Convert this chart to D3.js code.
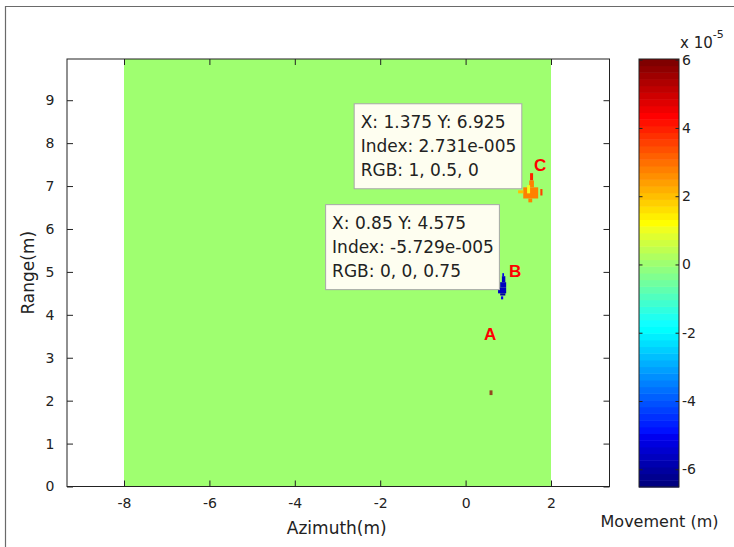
<!DOCTYPE html>
<html>
<head>
<meta charset="utf-8">
<script src="https://cdn.jsdelivr.net/npm/d3@7"></script>
<style>
  html, body { margin: 0; padding: 0; background: #fff; }
  svg { display: block; font-family: "DejaVu Sans", sans-serif; }
</style>
</head>
<body>
<svg id="chart" width="734" height="547"></svg>
<script>
// ---- data -------------------------------------------------------------
// axis limits (m)
const xLimits = [-9.335, 3.37];
const yLimits = [0, 9.96];
// scanned region (m)
const scanAzimuth = [-8, 2];
const scanRange = [0, 9.96];
const backgroundMovement = 0;
// tick values
const xTicks = [-8, -6, -4, -2, 0, 2];
const yTicks = [0, 1, 2, 3, 4, 5, 6, 7, 8, 9];
const cbTicks = [-6, -4, -2, 0, 2, 4, 6];          // x 1e-5
const cbScaleExp = -5;
// colour limits (m)
const colorLimits = [-6.52e-5, 6.02e-5];
// detected movement cells: [az0, az1, range0, range1, movement (m)]
const targetA = [
  [0.56, 0.63, 2.13, 2.24, 5.8e-5]
];
const targetB = [
  [0.86, 0.90, 4.90, 4.97, -5.0e-5],
  [0.85, 0.93, 4.76, 4.90, -5.729e-5],
  [0.81, 0.95, 4.64, 4.76, -5.729e-5],
  [0.76, 0.95, 4.50, 4.64, -5.729e-5],
  [0.81, 0.93, 4.45, 4.50, -6.1e-5],
  [0.83, 0.88, 4.36, 4.43, -5.0e-5]
];
const targetC = [
  [1.51, 1.58, 7.13, 7.30, 4.0e-5],
  [1.49, 1.60, 6.97, 7.13, 2.731e-5],
  [1.35, 1.70, 6.71, 6.97, 2.731e-5],
  [1.44, 1.51, 6.83, 7.02, 1.0e-5],
  [1.47, 1.56, 6.62, 6.71, 2.731e-5],
  [1.75, 1.80, 6.78, 6.93, 3.6e-5],
  [1.23, 1.35, 6.83, 6.90, 2.0e-5]
];
// data cursors
const tipX = [1.375, 0.85];
const tipY = [6.925, 4.575];
const tipValue = [2.731e-5, -5.729e-5];
// target names and where they are written (m)
const targetNames = ["A", "B", "C"];
const nameX = [0.576, 1.161, 1.747];
const nameY = [3.572, 5.038, 7.505];

// ---- layout -----------------------------------------------------------
const svg = d3.select("#chart");
const plot = { left: 67, right: 609.5, top: 59, bottom: 486.5 };
const cbar = { left: 639, right: 679, top: 59, bottom: 487 };
const ink = "#222";
const plain = d => String(d);   // ASCII hyphen for negatives

const x = d3.scaleLinear().domain(xLimits).range([plot.left, plot.right]);
const y = d3.scaleLinear().domain(yLimits).range([plot.bottom, plot.top]);

// MATLAB jet(64)
function jetRow(i) {
  const u = k => (k < 1 || k > 47) ? 0 : (k <= 16 ? k / 16 : (k <= 31 ? 1 : (48 - k) / 16));
  const r = i >= 25 ? u(i - 24) : 0;
  const g = (i >= 9 && i <= 55) ? u(i - 8) : 0;
  const b = i <= 39 ? u(i + 7) : 0;
  return [r, g, b];
}
const jetRows = d3.range(1, 65).map(jetRow);
const color = d3.scaleQuantize().domain(colorLimits)
  .range(jetRows.map(([r, g, b]) => d3.rgb(r * 255, g * 255, b * 255).formatHex()));
const rowOf = d3.scaleQuantize().domain(colorLimits).range(jetRows);

const defs = svg.append("defs");
defs.append("filter").attr("id", "soft")
  .attr("x", "-50%").attr("y", "-50%").attr("width", "200%").attr("height", "200%")
  .append("feGaussianBlur").attr("stdDeviation", 0.45);

// outer frame
svg.append("path").attr("d", "M5.5,547V6.5H734")
  .attr("fill", "none").attr("stroke", "#6a6a6a").attr("stroke-width", 1.2);

// ---- image ------------------------------------------------------------
svg.append("rect")
  .attr("x", x(scanAzimuth[0])).attr("width", x(scanAzimuth[1]) - x(scanAzimuth[0]))
  .attr("y", y(scanRange[1])).attr("height", y(scanRange[0]) - y(scanRange[1]))
  .attr("fill", color(backgroundMovement));

function drawCells(cells, opacity) {
  svg.append("g").attr("filter", "url(#soft)")
    .selectAll("rect").data(cells).join("rect")
    .attr("x", d => x(d[0])).attr("width", d => x(d[1]) - x(d[0]))
    .attr("y", d => y(d[3])).attr("height", d => y(d[2]) - y(d[3]))
    .attr("fill", d => color(d[4]))
    .attr("fill-opacity", opacity);
}
drawCells(targetA, 0.72);
drawCells(targetB, 1);
drawCells(targetC, 1);

// ---- axes (MATLAB style inward ticks, boxed) ---------------------------
const tickFont = 14;
function styleAxis(g) {
  g.select(".domain").remove();
  g.selectAll(".tick line").attr("stroke", ink);
  g.selectAll(".tick text").attr("fill", ink).attr("font-size", tickFont)
    .attr("font-family", "DejaVu Sans");
}
svg.append("g").attr("transform", `translate(0,${plot.bottom})`)
  .call(d3.axisBottom(x).tickValues(xTicks).tickFormat(plain)
    .tickSizeInner(-6).tickSizeOuter(0).tickPadding(12))
  .call(styleAxis);
svg.append("g").attr("transform", `translate(0,${plot.top})`)
  .call(d3.axisTop(x).tickValues(xTicks).tickFormat("")
    .tickSizeInner(-6).tickSizeOuter(0))
  .call(styleAxis);
svg.append("g").attr("transform", `translate(${plot.left},0)`)
  .call(d3.axisLeft(y).tickValues(yTicks).tickFormat(plain)
    .tickSizeInner(-6).tickSizeOuter(0).tickPadding(12.5))
  .call(styleAxis);
svg.append("g").attr("transform", `translate(${plot.right},0)`)
  .call(d3.axisRight(y).tickValues(yTicks).tickFormat("")
    .tickSizeInner(-6).tickSizeOuter(0))
  .call(styleAxis);
svg.append("rect")
  .attr("x", plot.left).attr("y", plot.top)
  .attr("width", plot.right - plot.left).attr("height", plot.bottom - plot.top)
  .attr("fill", "none").attr("stroke", ink).attr("stroke-width", 1);

svg.append("text").attr("x", (plot.left + plot.right) / 2 - 1.5).attr("y", 534)
  .attr("text-anchor", "middle").attr("font-size", 17).attr("fill", ink)
  .text("Azimuth(m)");
svg.append("text").attr("transform", `translate(33.5,${(plot.top + plot.bottom) / 2}) rotate(-90)`)
  .attr("text-anchor", "middle").attr("font-size", 17).attr("fill", ink)
  .text("Range(m)");

// ---- target names --------------------------------------------------------
svg.append("g").selectAll("text").data(targetNames).join("text")
  .attr("x", (d, i) => x(nameX[i])).attr("y", (d, i) => y(nameY[i]) + 6.5)
  .attr("text-anchor", "middle").attr("font-size", 17).attr("font-weight", "bold")
  .attr("font-family", "Liberation Sans, Arial, sans-serif")
  .attr("fill", "#ff0000").text(d => d);

// ---- data cursors ---------------------------------------------------------
function matlabExp(v) {
  const [m, e] = v.toExponential(3).split("e");
  const n = Math.abs(+e);
  return `${m}e${+e < 0 ? "-" : "+"}${String(n).padStart(3, "0")}`;
}
const num = v => String(+v.toFixed(4));
tipX.forEach((tx, i) => {
  const lines = [
    `X: ${num(tx)} Y: ${num(tipY[i])}`,
    `Index: ${matlabExp(tipValue[i])}`,
    `RGB: ${rowOf(tipValue[i]).map(num).join(", ")}`
  ];
  const g = svg.append("g");
  const box = g.append("rect");
  const texts = g.selectAll("text").data(lines).join("text")
    .attr("font-size", 17).attr("fill", ink).text(d => d);
  const w = d3.max(texts.nodes(), n => n.getComputedTextLength()) + 12;
  const h = 85;
  const right = x(tx) - 3, bottom = y(tipY[i]) - 1;
  const left = right - w, top = bottom - h;
  box.attr("x", left + 0.5).attr("y", top + 0.5).attr("width", w).attr("height", h)
    .attr("fill", "#fefef0").attr("stroke", "#a8a8a8").attr("stroke-width", 1);
  texts.attr("x", left + 7).attr("y", (d, j) => top + 25 + j * 24);
});

// ---- colorbar ---------------------------------------------------------------
const cy = d3.scaleLinear().domain(colorLimits).range([cbar.bottom, cbar.top]);
const step = (colorLimits[1] - colorLimits[0]) / 64;
svg.append("g").selectAll("rect").data(d3.range(64)).join("rect")
  .attr("x", cbar.left).attr("width", cbar.right - cbar.left)
  .attr("y", i => cy(colorLimits[0] + (i + 1) * step))
  .attr("height", i => cy(colorLimits[0] + i * step) - cy(colorLimits[0] + (i + 1) * step) + 0.5)
  .attr("fill", i => color(colorLimits[0] + (i + 0.5) * step));
const cbScale = Math.pow(10, cbScaleExp);
const cyTicks = d3.scaleLinear().domain(colorLimits.map(v => v / cbScale)).range([cbar.bottom, cbar.top]);
svg.append("g").attr("transform", `translate(${cbar.right},0)`)
  .call(d3.axisRight(cyTicks).tickValues(cbTicks).tickFormat(plain)
    .tickSizeInner(-3.5).tickSizeOuter(0).tickPadding(3))
  .call(styleAxis);
svg.append("g").attr("transform", `translate(${cbar.left},0)`)
  .call(d3.axisLeft(cyTicks).tickValues(cbTicks).tickFormat("")
    .tickSizeInner(-3.5).tickSizeOuter(0))
  .call(styleAxis);
svg.append("rect")
  .attr("x", cbar.left).attr("y", cbar.top)
  .attr("width", cbar.right - cbar.left).attr("height", cbar.bottom - cbar.top)
  .attr("fill", "none").attr("stroke", ink).attr("stroke-width", 1);

const expLabel = svg.append("text").attr("x", 680).attr("y", 47.5)
  .attr("font-size", 15).attr("fill", ink);
expLabel.append("tspan").text("x 10");
expLabel.append("tspan").attr("dy", -10).attr("font-size", 11).text(String(cbScaleExp));

svg.append("text").attr("x", 659.5).attr("y", 527)
  .attr("text-anchor", "middle").attr("font-size", 16).attr("fill", ink)
  .text("Movement (m)");
</script>
</body>
</html>
